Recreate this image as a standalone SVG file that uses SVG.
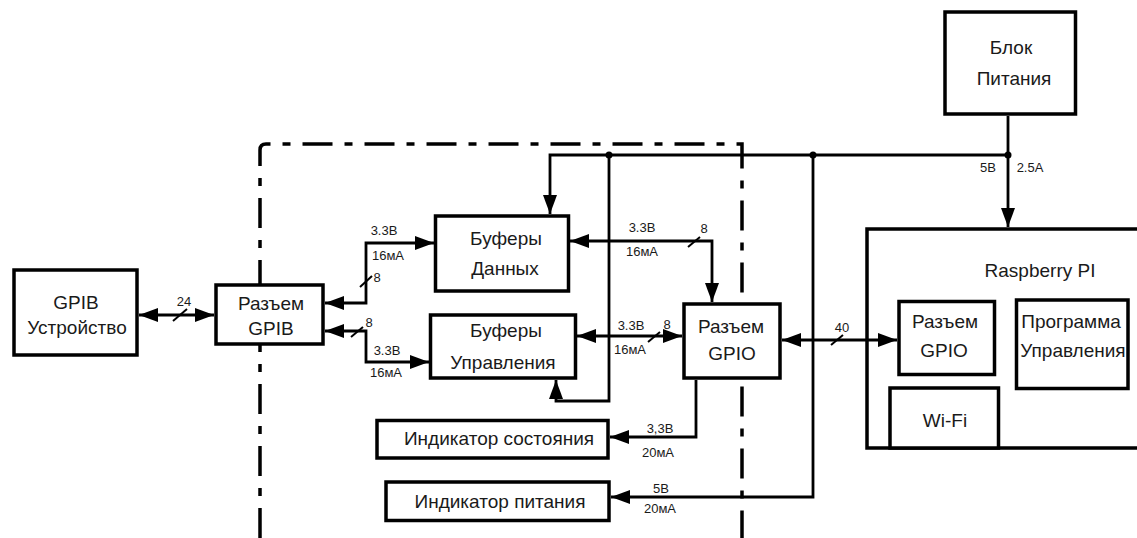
<svg xmlns="http://www.w3.org/2000/svg" width="1137" height="538" viewBox="0 0 1137 538">
<defs>
<style>
.box{fill:#fff;stroke:#000;stroke-width:3.5}
.ln{fill:none;stroke:#000;stroke-width:2.8}
.sl{fill:none;stroke:#000;stroke-width:2}
.bd{fill:none;stroke:#000;stroke-width:3.5;stroke-dasharray:30 12 8 12}
.t{font-family:"Liberation Sans",Arial,sans-serif;font-size:19px;fill:#1a1a1a;text-anchor:middle}
.s{font-family:"Liberation Sans",Arial,sans-serif;font-size:13px;fill:#1a1a1a;text-anchor:middle}
</style>
<marker id="arr" markerUnits="userSpaceOnUse" markerWidth="20" markerHeight="14" refX="19" refY="7" orient="auto-start-reverse" viewBox="0 0 20 14">
<path d="M0,0 L19,7 L0,14 z" fill="#000"/>
</marker>
</defs>
<rect width="1137" height="538" fill="#fff"/>
<g id="boundary">
<path class="bd" d="M260,538 V150 Q260,144 266,144 H742 V538"/>
</g>
<g id="raspberry-pi">
<path class="box" d="M1142,229 H867 V448 H1142"/>
<text class="t" x="1040" y="277">Raspberry PI</text>
</g>
<g id="connectors">
<path class="ln" d="M139,315 H214" marker-start="url(#arr)" marker-end="url(#arr)"/>
<path class="sl" d="M173,321 L187,309"/>
<path class="ln" d="M325,303 H366 V243 H434" marker-start="url(#arr)" marker-end="url(#arr)"/>
<path class="sl" d="M360,287 L372,276"/>
<path class="ln" d="M325,331 H366 V362 H429" marker-start="url(#arr)" marker-end="url(#arr)"/>
<path class="sl" d="M351,337 L363,327"/>
<path class="ln" d="M570,241 H712 V302" marker-start="url(#arr)" marker-end="url(#arr)"/>
<path class="sl" d="M688,247 L700,237"/>
<path class="ln" d="M577,336 H682" marker-start="url(#arr)" marker-end="url(#arr)"/>
<path class="sl" d="M648,342 L660,332"/>
<path class="ln" d="M782,340 H897" marker-start="url(#arr)" marker-end="url(#arr)"/>
<path class="sl" d="M831,345 L843,335"/>
<path class="ln" d="M1008,116 V227" marker-end="url(#arr)"/>
<path class="ln" d="M1008,155 H550 V214" marker-end="url(#arr)"/>
<path class="ln" d="M609,155 V401 H556 V380" marker-end="url(#arr)"/>
<path class="ln" d="M813,155 V497 H611" marker-end="url(#arr)"/>
<path class="ln" d="M696,380 V437 H610" marker-end="url(#arr)"/>
<circle cx="609" cy="155" r="3.5" fill="#000"/>
<circle cx="813" cy="155" r="3.5" fill="#000"/>
<circle cx="1008" cy="155" r="3.5" fill="#000"/>
<text class="s" x="184" y="306">24</text>
<text class="s" x="377" y="282">8</text>
<text class="s" x="384" y="235">3.3B</text>
<text class="s" x="388" y="260">16мА</text>
<text class="s" x="369" y="327">8</text>
<text class="s" x="387" y="355">3.3B</text>
<text class="s" x="386" y="377">16мА</text>
<text class="s" x="642" y="232">3.3B</text>
<text class="s" x="642" y="256">16мА</text>
<text class="s" x="704" y="233">8</text>
<text class="s" x="631" y="330">3.3B</text>
<text class="s" x="667" y="329">8</text>
<text class="s" x="630" y="354">16мА</text>
<text class="s" x="842" y="332">40</text>
<text class="s" x="988" y="172">5B</text>
<text class="s" x="1030" y="172">2.5A</text>
<text class="s" x="660" y="433">3,3B</text>
<text class="s" x="658" y="457">20мА</text>
<text class="s" x="661" y="493">5B</text>
<text class="s" x="660" y="513">20мА</text>
</g>
<g id="gpib-device">
<rect class="box" x="14" y="270" width="123" height="85"/>
<text class="t" x="76" y="309">GPIB</text>
<text class="t" x="77" y="334">Устройство</text>
</g>
<g id="gpib-connector">
<rect class="box" x="216" y="285" width="107" height="59"/>
<text class="t" x="271" y="310">Разъем</text>
<text class="t" x="271" y="335">GPIB</text>
</g>
<g id="data-buffers">
<rect class="box" x="435.5" y="216" width="133" height="75"/>
<text class="t" x="506" y="245">Буферы</text>
<text class="t" x="505" y="275">Данных</text>
</g>
<g id="control-buffers">
<rect class="box" x="430.5" y="315" width="145" height="63"/>
<text class="t" x="506" y="337">Буферы</text>
<text class="t" x="503" y="369">Управления</text>
</g>
<g id="gpio-connector">
<rect class="box" x="684" y="304" width="96" height="74"/>
<text class="t" x="731" y="333">Разъем</text>
<text class="t" x="732" y="360">GPIO</text>
</g>
<g id="status-indicator">
<rect class="box" x="377" y="420.5" width="231" height="37.5"/>
<text class="t" x="499" y="445">Индикатор состояния</text>
</g>
<g id="power-indicator">
<rect class="box" x="386" y="482" width="223" height="38.5"/>
<text class="t" x="500" y="508">Индикатор питания</text>
</g>
<g id="power-supply">
<rect class="box" x="945" y="12" width="130.5" height="102"/>
<text class="t" x="1011" y="54">Блок</text>
<text class="t" x="1014" y="85">Питания</text>
</g>
<g id="rpi-gpio">
<rect class="box" x="899" y="301.5" width="95.5" height="73"/>
<text class="t" x="945" y="328">Разъем</text>
<text class="t" x="944" y="357">GPIO</text>
</g>
<g id="control-program">
<rect class="box" x="1016.5" y="300" width="111.5" height="88.5"/>
<text class="t" x="1071" y="328">Программа</text>
<text class="t" x="1073" y="357">Управления</text>
</g>
<g id="wifi">
<rect class="box" x="890" y="388" width="108.5" height="60"/>
<text class="t" x="945" y="427">Wi-Fi</text>
</g>
</svg>
